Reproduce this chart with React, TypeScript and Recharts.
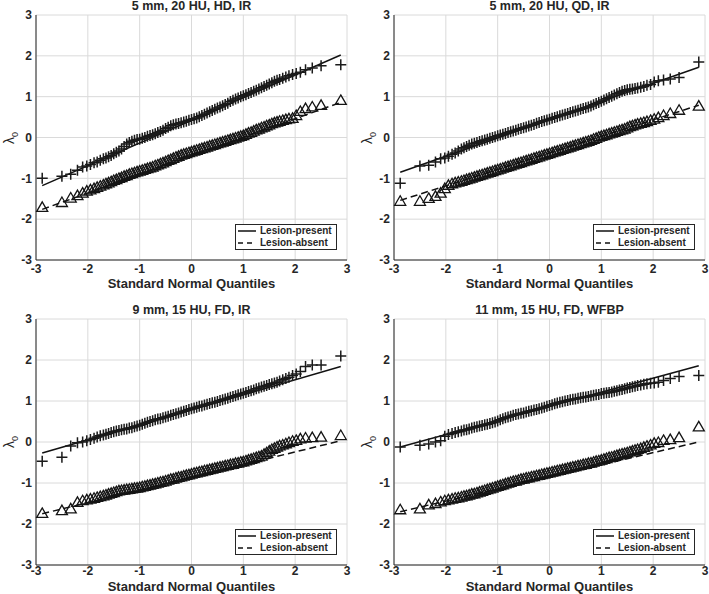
import React from "react";
import {
  ScatterChart,
  Scatter,
  XAxis,
  YAxis,
  CartesianGrid,
  ReferenceLine,
} from "recharts";

// shared standard normal quantiles (x positions of the QQ points)
const quantiles = [
  -2.88, -2.5, -2.33, -2.2, -2.1, -2.02, -1.95, -1.88, -1.82, -1.76,
  -1.7, -1.65, -1.6, -1.55, -1.5, -1.45, -1.4, -1.35, -1.3, -1.25,
  -1.2, -1.15, -1.1, -1.05, -1.0, -0.95, -0.9, -0.85, -0.8, -0.75,
  -0.7, -0.65, -0.6, -0.55, -0.5, -0.45, -0.4, -0.35, -0.3, -0.25,
  -0.2, -0.15, -0.1, -0.05, 0, 0.05, 0.1, 0.15, 0.2, 0.25,
  0.3, 0.35, 0.4, 0.45, 0.5, 0.55, 0.6, 0.65, 0.7, 0.75,
  0.8, 0.85, 0.9, 0.95, 1.0, 1.05, 1.1, 1.15, 1.2, 1.25,
  1.3, 1.35, 1.4, 1.45, 1.5, 1.55, 1.6, 1.65, 1.7, 1.76,
  1.82, 1.88, 1.95, 2.02, 2.1, 2.2, 2.33, 2.5, 2.88,
];

const ticks = [-3, -2, -1, 0, 1, 2, 3];
const fitX = [-2.88, 2.88];

// 5 mm, 20 HU, HD, IR
const hdPresent = [
  -1.0, -0.95, -0.9, -0.8, -0.72, -0.7, -0.66, -0.62, -0.6, -0.56,
  -0.52, -0.5, -0.47, -0.44, -0.4, -0.36, -0.33, -0.28, -0.22, -0.16,
  -0.12, -0.09, -0.07, -0.05, -0.04, -0.02, 0.0, 0.03, 0.05, 0.07,
  0.09, 0.12, 0.15, 0.18, 0.22, 0.25, 0.29, 0.31, 0.33, 0.34,
  0.36, 0.38, 0.4, 0.42, 0.44, 0.46, 0.48, 0.51, 0.54, 0.57,
  0.6, 0.63, 0.66, 0.69, 0.72, 0.75, 0.78, 0.81, 0.84, 0.88,
  0.91, 0.94, 0.97, 1.0, 1.02, 1.05, 1.08, 1.1, 1.13, 1.16,
  1.19, 1.22, 1.25, 1.28, 1.31, 1.34, 1.38, 1.4, 1.42, 1.45,
  1.48, 1.51, 1.54, 1.57, 1.6, 1.66, 1.7, 1.76, 1.78,
];
const hdAbsent = [
  -1.7, -1.58, -1.47, -1.41, -1.35, -1.3, -1.27, -1.24, -1.21, -1.18,
  -1.15, -1.12, -1.1, -1.07, -1.04, -1.02, -0.99, -0.97, -0.94, -0.92,
  -0.89, -0.87, -0.85, -0.83, -0.81, -0.79, -0.77, -0.75, -0.73, -0.71,
  -0.68, -0.66, -0.63, -0.61, -0.58, -0.55, -0.53, -0.5, -0.47, -0.45,
  -0.42, -0.4, -0.38, -0.36, -0.34, -0.32, -0.3, -0.28, -0.26, -0.24,
  -0.22, -0.2, -0.18, -0.16, -0.14, -0.12, -0.1, -0.08, -0.06, -0.04,
  -0.02, 0.0, 0.02, 0.04, 0.06, 0.09, 0.12, 0.14, 0.17, 0.2,
  0.22, 0.25, 0.27, 0.3, 0.32, 0.35, 0.37, 0.39, 0.41, 0.43,
  0.45, 0.47, 0.48, 0.55, 0.65, 0.72, 0.76, 0.8, 0.92,
];
const hdPresentFit = [-1.18, 2.02];
const hdAbsentFit = [-1.76, 0.86];

// 5 mm, 20 HU, QD, IR
const qdPresent = [
  -1.12, -0.7, -0.68, -0.6, -0.52, -0.5, -0.46, -0.41, -0.38, -0.33,
  -0.28, -0.25, -0.22, -0.19, -0.16, -0.14, -0.12, -0.1, -0.08, -0.06,
  -0.04, -0.02, 0.0, 0.02, 0.04, 0.06, 0.08, 0.1, 0.12, 0.14,
  0.16, 0.18, 0.2, 0.22, 0.24, 0.26, 0.28, 0.3, 0.32, 0.35,
  0.37, 0.39, 0.41, 0.43, 0.45, 0.47, 0.49, 0.51, 0.53, 0.55,
  0.57, 0.59, 0.61, 0.63, 0.65, 0.67, 0.69, 0.71, 0.73, 0.75,
  0.77, 0.8, 0.83, 0.86, 0.89, 0.92, 0.95, 0.98, 1.01, 1.04,
  1.07, 1.1, 1.13, 1.15, 1.17, 1.18, 1.19, 1.2, 1.21, 1.23,
  1.25, 1.28, 1.3, 1.36, 1.39, 1.41, 1.43, 1.47, 1.85,
];
const qdAbsent = [
  -1.55, -1.55, -1.48, -1.43, -1.35, -1.24, -1.16, -1.12, -1.1, -1.08,
  -1.06, -1.04, -1.02, -1.0, -0.98, -0.96, -0.94, -0.92, -0.9, -0.88,
  -0.86, -0.84, -0.82, -0.8, -0.78, -0.76, -0.74, -0.72, -0.7, -0.68,
  -0.66, -0.64, -0.62, -0.6, -0.58, -0.56, -0.54, -0.52, -0.5, -0.48,
  -0.46, -0.44, -0.42, -0.4, -0.38, -0.36, -0.34, -0.32, -0.3, -0.28,
  -0.26, -0.24, -0.22, -0.2, -0.18, -0.16, -0.14, -0.12, -0.1, -0.08,
  -0.06, -0.03, -0.01, 0.02, 0.04, 0.06, 0.08, 0.1, 0.12, 0.14,
  0.16, 0.18, 0.2, 0.22, 0.25, 0.28, 0.3, 0.32, 0.34, 0.36,
  0.38, 0.4, 0.43, 0.46, 0.5, 0.55, 0.6, 0.68, 0.78,
];
const qdPresentFit = [-0.85, 1.72];
const qdAbsentFit = [-1.54, 0.79];

// 9 mm, 15 HU, FD, IR
const fdIrPresent = [
  -0.47, -0.37, -0.1, -0.02, 0.0, 0.03, 0.06, 0.09, 0.12, 0.15,
  0.17, 0.19, 0.21, 0.23, 0.25, 0.27, 0.28, 0.3, 0.31, 0.32,
  0.34, 0.35, 0.37, 0.39, 0.41, 0.43, 0.46, 0.48, 0.5, 0.52,
  0.54, 0.56, 0.57, 0.59, 0.61, 0.63, 0.65, 0.67, 0.69, 0.71,
  0.73, 0.75, 0.77, 0.79, 0.81, 0.83, 0.85, 0.87, 0.88, 0.9,
  0.92, 0.94, 0.96, 0.97, 0.99, 1.01, 1.03, 1.05, 1.07, 1.09,
  1.11, 1.13, 1.15, 1.17, 1.19, 1.21, 1.23, 1.25, 1.27, 1.3,
  1.32, 1.34, 1.36, 1.38, 1.4, 1.42, 1.44, 1.46, 1.49, 1.52,
  1.55, 1.58, 1.62, 1.66, 1.72, 1.84, 1.88, 1.88, 2.1,
];
const fdIrAbsent = [
  -1.73, -1.66, -1.62, -1.46, -1.42, -1.4, -1.38, -1.36, -1.34, -1.32,
  -1.3, -1.28, -1.26, -1.24, -1.22, -1.2, -1.18, -1.17, -1.16, -1.15,
  -1.14, -1.13, -1.12, -1.11, -1.1, -1.08, -1.07, -1.05, -1.04, -1.02,
  -1.01, -0.99, -0.97, -0.96, -0.94, -0.92, -0.9, -0.89, -0.87, -0.85,
  -0.84, -0.82, -0.8, -0.79, -0.77, -0.75, -0.74, -0.72, -0.71, -0.69,
  -0.68, -0.66, -0.65, -0.63, -0.62, -0.6, -0.59, -0.57, -0.56, -0.54,
  -0.53, -0.51, -0.5, -0.48, -0.47, -0.45, -0.43, -0.41, -0.39, -0.37,
  -0.35, -0.33, -0.29, -0.25, -0.21, -0.17, -0.14, -0.11, -0.08, -0.06,
  -0.03, 0.0, 0.03, 0.05, 0.09, 0.11, 0.12, 0.13, 0.17,
];
const fdIrPresentFit = [-0.27, 1.84];
const fdIrAbsentFit = [-1.75, 0.03];

// 11 mm, 15 HU, FD, WFBP
const wfbpPresent = [
  -0.12, -0.08, -0.05, 0.0, 0.03, 0.14, 0.18, 0.21, 0.23, 0.25,
  0.27, 0.29, 0.3, 0.32, 0.34, 0.36, 0.37, 0.39, 0.4, 0.42,
  0.43, 0.45, 0.47, 0.49, 0.51, 0.54, 0.57, 0.59, 0.61, 0.63,
  0.65, 0.67, 0.68, 0.7, 0.71, 0.73, 0.75, 0.76, 0.78, 0.79,
  0.81, 0.83, 0.85, 0.87, 0.89, 0.91, 0.93, 0.95, 0.97, 0.98,
  1.0, 1.01, 1.03, 1.04, 1.05, 1.07, 1.08, 1.09, 1.1, 1.11,
  1.13, 1.14, 1.15, 1.16, 1.18, 1.19, 1.2, 1.21, 1.22, 1.24,
  1.25, 1.27, 1.28, 1.3, 1.32, 1.33, 1.35, 1.36, 1.38, 1.39,
  1.41, 1.42, 1.43, 1.44, 1.46, 1.5, 1.55, 1.6, 1.62,
];
const wfbpAbsent = [
  -1.64, -1.62, -1.52, -1.49, -1.45, -1.42, -1.4, -1.38, -1.36, -1.35,
  -1.33, -1.31, -1.3, -1.28, -1.26, -1.25, -1.23, -1.21, -1.19, -1.17,
  -1.15, -1.13, -1.11, -1.09, -1.07, -1.05, -1.03, -1.01, -0.99, -0.97,
  -0.95, -0.94, -0.92, -0.9, -0.89, -0.87, -0.86, -0.84, -0.83, -0.81,
  -0.8, -0.78, -0.77, -0.75, -0.74, -0.72, -0.71, -0.69, -0.68, -0.66,
  -0.65, -0.63, -0.62, -0.6, -0.59, -0.57, -0.56, -0.54, -0.53, -0.51,
  -0.5, -0.48, -0.46, -0.45, -0.43, -0.41, -0.39, -0.37, -0.36, -0.34,
  -0.32, -0.3, -0.28, -0.27, -0.25, -0.23, -0.21, -0.19, -0.17, -0.15,
  -0.12, -0.09, -0.06, -0.02, 0.0, 0.05, 0.07, 0.12, 0.38,
];
const wfbpPresentFit = [-0.12, 1.86];
const wfbpAbsentFit = [-1.7, 0.0];

const font = '"Liberation Sans", Arial, Helvetica, sans-serif';
const ink = "#262626";

const Plus = (p: any) => (
  <path
    d={`M${p.cx - 5.5},${p.cy}h11M${p.cx},${p.cy - 5.5}v11`}
    stroke="#1a1a1a"
    strokeWidth={1.5}
    fill="none"
  />
);

const Triangle = (p: any) => (
  <path
    d={`M${p.cx},${p.cy - 5}L${p.cx + 5.5},${p.cy + 4.5}L${p.cx - 5.5},${p.cy + 4.5}Z`}
    stroke="#141414"
    strokeWidth={1.3}
    fill="none"
  />
);

interface PanelProps {
  title: string;
  present: number[];
  absent: number[];
  presentFit: number[];
  absentFit: number[];
  plotLeft: number;
  plotTop: number;
  plotW: number;
  plotH: number;
  tickGap: number;
  xlabelGap: number;
}

function Panel(props: PanelProps) {
  const { title, present, absent, presentFit, absentFit, plotLeft, plotTop, plotW, plotH, tickGap, xlabelGap } = props;
  const left = plotLeft - 36;
  const top = plotTop - 15;
  const width = 36 + plotW + 6;
  const height = 15 + plotH + 30;
  const presentData = quantiles.map((q, i) => ({ x: q, y: present[i] }));
  const absentData = quantiles.map((q, i) => ({ x: q, y: absent[i] }));
  const tickStyle = { fill: ink, fontSize: 12, fontWeight: 700, fontFamily: font };

  return (
    <>
      <div style={{ position: "absolute", left, top, width, height }}>
        <ScatterChart width={width} height={height} margin={{ top: 15, right: 6, bottom: 4, left: 0 }}>
          <CartesianGrid stroke="#dadada" />
          <XAxis
            type="number"
            dataKey="x"
            domain={[-3, 3]}
            ticks={ticks}
            height={26}
            axisLine={{ stroke: ink }}
            tickLine={false}
            tickSize={0}
            tickMargin={tickGap}
            tick={tickStyle}
          />
          <YAxis
            type="number"
            dataKey="y"
            domain={[-3, 3]}
            ticks={ticks}
            width={36}
            axisLine={{ stroke: ink }}
            tickLine={false}
            tickSize={0}
            tickMargin={4}
            tick={tickStyle}
          />
          <Scatter data={presentData} shape={Plus} isAnimationActive={false} />
          <Scatter data={absentData} shape={Triangle} isAnimationActive={false} />
          <ReferenceLine
            segment={[
              { x: fitX[0], y: presentFit[0] },
              { x: fitX[1], y: presentFit[1] },
            ]}
            stroke="#111"
            strokeWidth={1.5}
          />
          <ReferenceLine
            segment={[
              { x: fitX[0], y: absentFit[0] },
              { x: fitX[1], y: absentFit[1] },
            ]}
            stroke="#111"
            strokeWidth={1.5}
            strokeDasharray="7 4"
          />
        </ScatterChart>
      </div>

      <div
        style={{
          position: "absolute",
          left: plotLeft,
          top: plotTop - 16,
          width: plotW,
          lineHeight: "14px",
          textAlign: "center",
          fontFamily: font,
          fontWeight: 700,
          fontSize: 12.5,
          color: ink,
        }}
      >
        {title}
      </div>

      <div
        style={{
          position: "absolute",
          left: plotLeft,
          top: plotTop + plotH + xlabelGap - 7,
          width: plotW,
          lineHeight: "14px",
          textAlign: "center",
          fontFamily: font,
          fontWeight: 700,
          fontSize: 13,
          color: ink,
        }}
      >
        Standard Normal Quantiles
      </div>

      <div
        style={{
          position: "absolute",
          left: plotLeft - 27 - 9,
          top: plotTop + plotH / 2 - 8,
          width: 18,
          height: 16,
          lineHeight: "16px",
          textAlign: "center",
          transform: "rotate(-90deg)",
          fontFamily: font,
          fontSize: 14,
          color: ink,
        }}
      >
        λ<sub style={{ fontSize: 9 }}>0</sub>
      </div>

      <div
        style={{
          position: "absolute",
          left: plotLeft + plotW - 10 - 102,
          top: plotTop + plotH - 10 - 26,
          width: 100,
          height: 24,
          border: `1px solid ${ink}`,
          background: "#fff",
          fontFamily: font,
          fontWeight: 700,
          fontSize: 10,
          color: ink,
        }}
      >
        {["Lesion-present", "Lesion-absent"].map((name, i) => (
          <div key={name} style={{ display: "flex", alignItems: "center", height: 12 }}>
            <svg width={24} height={12} style={{ flex: "none" }}>
              <line
                x1={2}
                x2={20}
                y1={6}
                y2={6}
                stroke="#111"
                strokeWidth={1.5}
                strokeDasharray={i === 1 ? "5 4" : undefined}
              />
            </svg>
            <span style={{ lineHeight: "12px" }}>{name}</span>
          </div>
        ))}
      </div>
    </>
  );
}

export default function App() {
  return (
    <div
      style={{
        position: "absolute",
        left: 0,
        top: 0,
        width: 709,
        height: 594,
        background: "#fff",
        overflow: "hidden",
      }}
    >
      <Panel
        title="5 mm, 20 HU, HD, IR"
        present={hdPresent}
        absent={hdAbsent}
        presentFit={hdPresentFit}
        absentFit={hdAbsentFit}
        plotLeft={36}
        plotTop={15}
        plotW={311}
        plotH={245}
        tickGap={4}
        xlabelGap={24}
      />
      <Panel
        title="5 mm, 20 HU, QD, IR"
        present={qdPresent}
        absent={qdAbsent}
        presentFit={qdPresentFit}
        absentFit={qdAbsentFit}
        plotLeft={394}
        plotTop={15}
        plotW={311}
        plotH={245}
        tickGap={4}
        xlabelGap={24}
      />
      <Panel
        title="9 mm, 15 HU, FD, IR"
        present={fdIrPresent}
        absent={fdIrAbsent}
        presentFit={fdIrPresentFit}
        absentFit={fdIrAbsentFit}
        plotLeft={36}
        plotTop={319}
        plotW={311}
        plotH={246}
        tickGap={1}
        xlabelGap={22}
      />
      <Panel
        title="11 mm, 15 HU, FD, WFBP"
        present={wfbpPresent}
        absent={wfbpAbsent}
        presentFit={wfbpPresentFit}
        absentFit={wfbpAbsentFit}
        plotLeft={394}
        plotTop={319}
        plotW={311}
        plotH={246}
        tickGap={1}
        xlabelGap={22}
      />
    </div>
  );
}
